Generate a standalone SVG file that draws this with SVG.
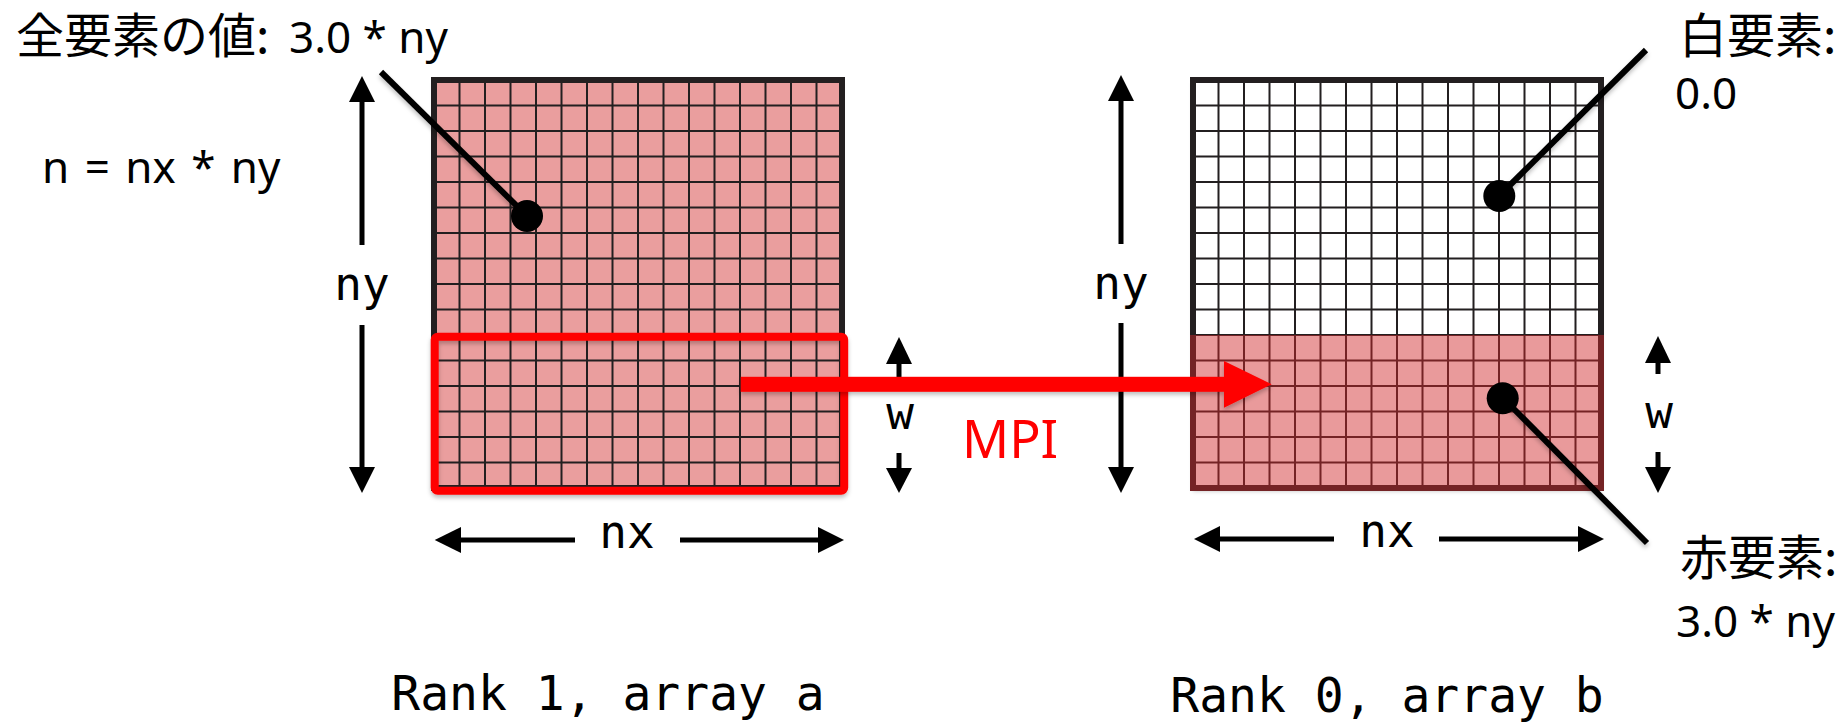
<svg xmlns="http://www.w3.org/2000/svg" width="1844" height="722" viewBox="0 0 1844 722">
<style>
.lat{font-family:"Noto Sans","Noto Sans CJK JP",sans-serif;font-size:44px;fill:#000}
.cjk{font-family:"Noto Sans CJK JP",sans-serif;font-size:48px}
.mono{font-family:"DejaVu Sans Mono",monospace;font-size:46px;fill:#000;text-anchor:middle}
.rank{font-family:"DejaVu Sans Mono",monospace;font-size:48px;fill:#000;text-anchor:middle}
.gl{fill:none;stroke:#231F20;stroke-width:2}
.gb{fill:none;stroke:#231F20;stroke-width:6}
.shaft{stroke:#000;stroke-width:5;fill:none}
.head{fill:#000}
.lead{stroke:#000;stroke-width:6;fill:none}
.red{fill:#FF0000}
</style>
<defs>
<filter id="sh" x="-10%" y="-10%" width="120%" height="130%">
<feDropShadow dx="0" dy="3" stdDeviation="2" flood-color="#000" flood-opacity="0.25"/>
</filter>
<path id="lines" class="gl" d="M25.5 0V408M51 0V408M76.5 0V408M102 0V408M127.5 0V408M153 0V408M178.5 0V408M204 0V408M229.5 0V408M255 0V408M280.5 0V408M306 0V408M331.5 0V408M357 0V408M382.5 0V408M0 25.5H408M0 51H408M0 76.5H408M0 102H408M0 127.5H408M0 153H408M0 178.5H408M0 204H408M0 229.5H408M0 255H408M0 280.5H408M0 306H408M0 331.5H408M0 357H408M0 382.5H408"/>
</defs>

<!-- Left grid: Rank 1, array a -->
<g id="grid-a">
<rect x="434" y="80" width="408" height="408" fill="#EA9E9E" filter="url(#sh)"/>
<use href="#lines" x="434" y="80"/>
<rect class="gb" x="434" y="80" width="408" height="408"/>
</g>

<!-- Right grid: Rank 0, array b -->
<g id="grid-b">
<rect x="1193" y="80" width="408" height="408" fill="#FFFFFF" filter="url(#sh)"/>
<use href="#lines" x="1193" y="80"/>
<rect class="gb" x="1193" y="80" width="408" height="408"/>
<rect x="1190" y="335" width="414" height="156" fill="rgb(208,40,42)" fill-opacity="0.47"/>
</g>

<!-- Sent block highlight -->
<g id="send-block">
<rect x="434.7" y="336.7" width="409.5" height="154" rx="3" fill="none" stroke="#FF0000" stroke-width="8" filter="url(#sh)"/>
</g>

<!-- Dimension arrows, leader lines, MPI arrow -->
<g id="connectors">
<line class="shaft" x1="362" y1="100" x2="362" y2="245"/>
<polygon class="head" points="362,76 349,102 375,102"/>
<line class="shaft" x1="362" y1="325" x2="362" y2="469"/>
<polygon class="head" points="349,467 375,467 362,493"/>
<line class="shaft" x1="1121" y1="100" x2="1121" y2="244"/>
<polygon class="head" points="1121,75 1108,101 1134,101"/>
<line class="shaft" x1="1121" y1="323" x2="1121" y2="469"/>
<polygon class="head" points="1108,467 1134,467 1121,493"/>
<line class="shaft" x1="899" y1="362" x2="899" y2="377"/>
<polygon class="head" points="899,337 886,364 912,364"/>
<line class="shaft" x1="899" y1="453" x2="899" y2="470"/>
<polygon class="head" points="886,468 912,468 899,493"/>
<line class="shaft" x1="1658" y1="361" x2="1658" y2="374"/>
<polygon class="head" points="1658,336 1645,363 1671,363"/>
<line class="shaft" x1="1658" y1="452" x2="1658" y2="469"/>
<polygon class="head" points="1645,467 1671,467 1658,493"/>
<line class="shaft" x1="459" y1="540" x2="575" y2="540"/>
<polygon class="head" points="434.7,540 461,527 461,553"/>
<line class="shaft" x1="680" y1="540" x2="820" y2="540"/>
<polygon class="head" points="818,527 818,553 844,540"/>
<line class="shaft" x1="1218" y1="539" x2="1334" y2="539"/>
<polygon class="head" points="1194,539 1220,526 1220,552"/>
<line class="shaft" x1="1439" y1="539" x2="1580" y2="539"/>
<polygon class="head" points="1578,526 1578,552 1604,539"/>
<line class="lead" x1="381" y1="72" x2="527" y2="216" filter="url(#sh)"/>
<line class="lead" x1="1646" y1="50" x2="1499" y2="196" filter="url(#sh)"/>
<line class="lead" x1="1503" y1="398" x2="1647" y2="543" filter="url(#sh)"/>
<g filter="url(#sh)">
<rect class="red" x="740.7" y="376.8" width="485" height="15"/>
<polygon class="red" points="1224,361 1271.7,384.3 1224,407.7"/>
</g>
</g>

<!-- Dots -->
<g id="dots">
<circle cx="527" cy="216" r="16" fill="#000"/>
<circle cx="1499.3" cy="196" r="16" fill="#000"/>
<circle cx="1502.7" cy="398.3" r="16" fill="#000"/>
</g>

<!-- Labels -->
<g id="labels">
<text class="lat" x="16" y="53"><tspan class="cjk">全要素の値:</tspan><tspan x="289">3.0 * ny</tspan></text>
<text class="lat" x="42" y="183" font-size="42" word-spacing="4">n = nx * ny</text>
<text class="lat" x="1679" y="53"><tspan class="cjk">白要素:</tspan></text>
<text class="lat" x="1675" y="109" font-size="48">0.0</text>
<text class="lat" x="1680" y="575"><tspan class="cjk">赤要素:</tspan></text>
<text class="lat" x="1676" y="637" font-size="47">3.0 * ny</text>
<text class="mono" x="362" y="300">ny</text>
<text class="mono" x="1121" y="299">ny</text>
<text class="mono" x="900" y="429">w</text>
<text class="mono" x="1659" y="428">w</text>
<text class="mono" x="627" y="548">nx</text>
<text class="mono" x="1387" y="547">nx</text>
<text class="rank" x="608" y="710">Rank 1, array a</text>
<text class="rank" x="1387" y="712">Rank 0, array b</text>
<text x="962" y="458" font-family="Noto Sans, sans-serif" font-size="52" fill="#FF0000">MPI</text>
</g>
</svg>
